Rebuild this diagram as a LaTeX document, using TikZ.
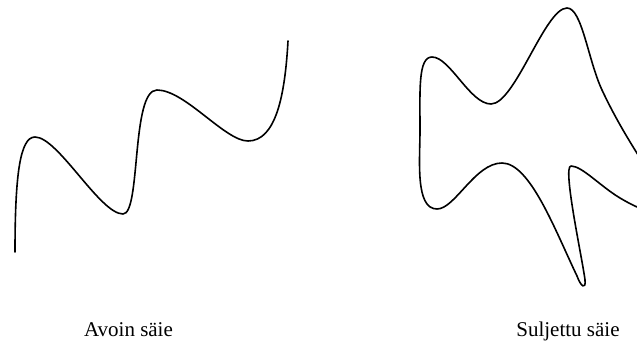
\documentclass[tikz,border=0pt]{standalone}
\usepackage{fontspec}
\setmainfont{Liberation Serif}
\begin{document}
\begin{tikzpicture}[x=1pt,y=-1pt,
  strand/.style={line width=1.6pt,line join=round,line cap=round},
  caption/.style={anchor=base,inner sep=0pt,font=\fontsize{21}{25}\selectfont}]
\useasboundingbox (0,0) rectangle (637,343);
\clip (0,0) rectangle (637,343);
% open strand
\draw[strand] (15,252) .. controls (15,175) and (20,137) .. (35,137)
  .. controls (58,137) and (100,214) .. (123,214)
  .. controls (141,214) and (131,90) .. (157,90)
  .. controls (185,90) and (225,141) .. (248,141)
  .. controls (276,141) and (285,95) .. (288,41);
% closed strand
\draw[strand] (567,8) .. controls (582,8) and (588,60) .. (602,90)
  .. controls (630,150) and (665,190) .. (665,205)
  .. controls (665,220) and (640,210) .. (620,198)
  .. controls (600,186) and (582,166) .. (571,166)
  .. controls (562,166) and (583,262) .. (585,280)
  .. controls (586,290) and (581,287) .. (577,276)
  .. controls (555,230) and (530,163) .. (502,163)
  .. controls (475,163) and (455,209) .. (437,209)
  .. controls (415,209) and (420,160) .. (420,130)
  .. controls (420,90) and (418,57) .. (432,57)
  .. controls (450,57) and (470,104) .. (491,104)
  .. controls (515,104) and (545,8) .. cycle;
\node[caption] (open) at (128.5,336) {Avoin säie};
\node[caption] (closed) at (568,336) {Suljettu säie};
\end{tikzpicture}
\end{document}
